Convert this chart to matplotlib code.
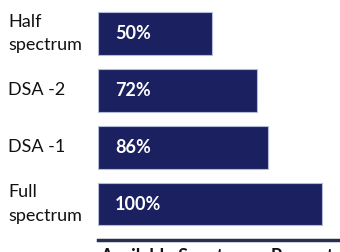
import matplotlib
matplotlib.use("Agg")
import matplotlib.pyplot as plt
import matplotlib.transforms as mtransforms

# categories top to bottom, labels shown in bars, and bar lengths
categories = ["Half\nspectrum", "DSA -2", "DSA -1", "Full\nspectrum"]
labels = ["50%", "72%", "86%", "100%"]
lengths = [50.7, 70.8, 75.8, 100]

plt.rcParams['font.family'] = ['Lato', 'DejaVu Sans']

fig = plt.figure(figsize=(3.4, 2.52), dpi=100)
ax = fig.add_axes([98 / 340, 12 / 252, 242 / 340, 240 / 252])

navy = "#1b2160"
ypos = list(range(len(categories)))
ax.barh(ypos, lengths, height=0.75, color=navy, edgecolor="#b4bdd8", linewidth=0.8)
ax.set_xlim(0, 108)
ax.set_ylim(3.632, -0.588)

for y, lab in zip(ypos, labels):
    ax.text(7.5, y, lab, color="white", fontsize=13, fontweight="bold",
            va="center", ha="left")

# category names sit left of the axes, in figure x / data y
trans = mtransforms.blended_transform_factory(fig.transFigure, ax.transData)
for y, cat in zip(ypos, categories):
    ax.text(8 / 340, y, cat, transform=trans, fontsize=13, color="#111111",
            va="center", ha="left", linespacing=1.55, clip_on=False)

for s in ["top", "right", "left"]:
    ax.spines[s].set_visible(False)
ax.spines["bottom"].set_linewidth(2.5)
ax.spines["bottom"].set_color("#2a2f4f")
ax.set_xticks([])
ax.set_yticks([])

fig.text(100 / 340, 4 / 252, "Available Spectrum - Percentage", fontsize=13,
         fontweight="bold", color="#111111", va="top", ha="left")

fig.savefig("out.png", dpi=100)
